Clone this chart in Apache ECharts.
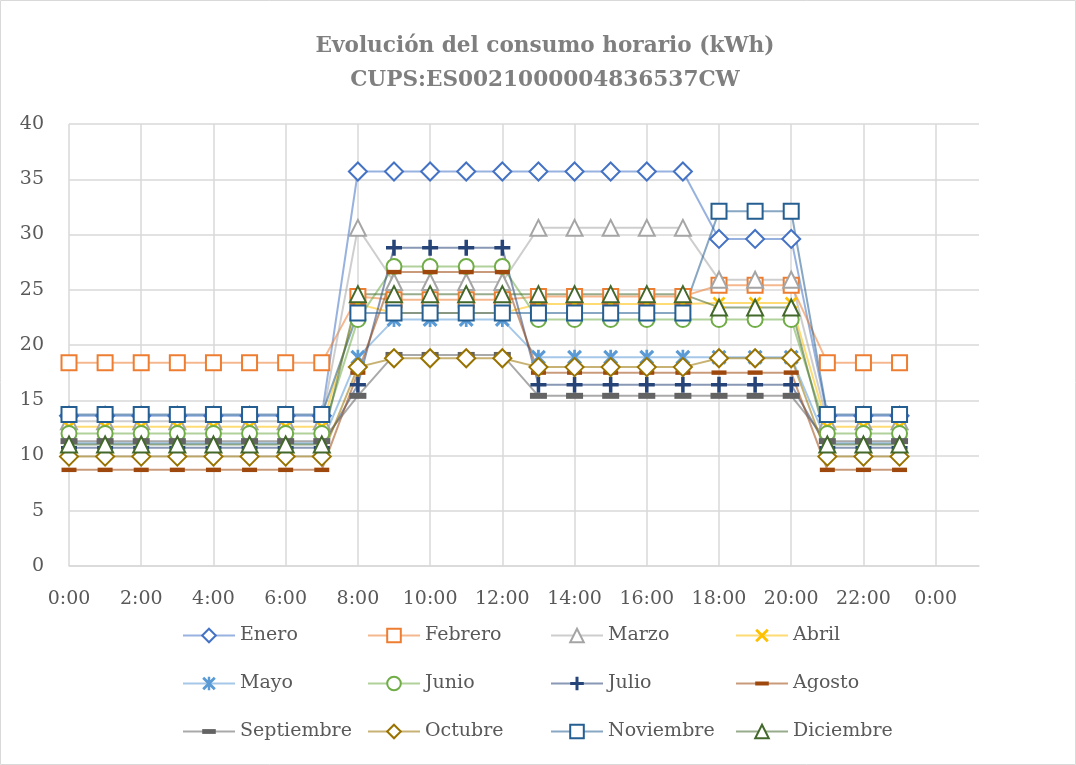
<!DOCTYPE html>
<html>
<head>
<meta charset="utf-8">
<script src="https://cdn.jsdelivr.net/npm/echarts@6/dist/echarts.min.js"></script>
<style>
html,body{margin:0;padding:0;background:#fff;}
#chart{width:1076px;height:765px;}
</style>
</head>
<body>
<div id="chart"></div>
<script>
const titleLines = ['Evolución del consumo horario (kWh)', 'CUPS:ES0021000004836537CW'];
const hours = [0,1,2,3,4,5,6,7,8,9,10,11,12,13,14,15,16,17,18,19,20,21,22,23];
const tickLabels = ['0:00','2:00','4:00','6:00','8:00','10:00','12:00','14:00','16:00','18:00','20:00','22:00','0:00'];
const seriesNames = ['Enero','Febrero','Marzo','Abril','Mayo','Junio','Julio','Agosto','Septiembre','Octubre','Noviembre','Diciembre'];

const enero      = [13.6,13.6,13.6,13.6,13.6,13.6,13.6,13.6,35.7,35.7,35.7,35.7,35.7,35.7,35.7,35.7,35.7,35.7,29.6,29.6,29.6,13.6,13.6,13.6];
const febrero    = [18.4,18.4,18.4,18.4,18.4,18.4,18.4,18.4,24.4,24.1,24.1,24.1,24.1,24.4,24.4,24.4,24.4,24.4,25.4,25.4,25.4,18.4,18.4,18.4];
const marzo      = [13.1,13.1,13.1,13.1,13.1,13.1,13.1,13.1,30.6,25.7,25.7,25.7,25.7,30.6,30.6,30.6,30.6,30.6,25.9,25.9,25.9,13.1,13.1,13.1];
const abril      = [12.6,12.6,12.6,12.6,12.6,12.6,12.6,12.6,23.7,22.9,22.9,22.9,22.9,23.7,23.7,23.7,23.7,23.7,23.8,23.8,23.8,12.6,12.6,12.6];
const mayo       = [11.1,11.1,11.1,11.1,11.1,11.1,11.1,11.1,18.9,22.3,22.3,22.3,22.3,18.9,18.9,18.9,18.9,18.9,18.9,18.9,18.9,11.1,11.1,11.1];
const junio      = [12.0,12.0,12.0,12.0,12.0,12.0,12.0,12.0,22.3,27.1,27.1,27.1,27.1,22.3,22.3,22.3,22.3,22.3,22.3,22.3,22.3,12.0,12.0,12.0];
const julio      = [10.7,10.7,10.7,10.7,10.7,10.7,10.7,10.7,16.4,28.8,28.8,28.8,28.8,16.4,16.4,16.4,16.4,16.4,16.4,16.4,16.4,10.7,10.7,10.7];
const agosto     = [8.7,8.7,8.7,8.7,8.7,8.7,8.7,8.7,17.5,26.6,26.6,26.6,26.6,17.5,17.5,17.5,17.5,17.5,17.5,17.5,17.5,8.7,8.7,8.7];
const septiembre = [11.3,11.3,11.3,11.3,11.3,11.3,11.3,11.3,15.4,19.1,19.1,19.1,19.1,15.4,15.4,15.4,15.4,15.4,15.4,15.4,15.4,11.3,11.3,11.3];
const octubre    = [9.9,9.9,9.9,9.9,9.9,9.9,9.9,9.9,18.0,18.8,18.8,18.8,18.8,18.0,18.0,18.0,18.0,18.0,18.8,18.8,18.8,9.9,9.9,9.9];
const noviembre  = [13.7,13.7,13.7,13.7,13.7,13.7,13.7,13.7,22.9,22.9,22.9,22.9,22.9,22.9,22.9,22.9,22.9,22.9,32.1,32.1,32.1,13.7,13.7,13.7];
const diciembre  = [11.0,11.0,11.0,11.0,11.0,11.0,11.0,11.0,24.6,24.6,24.6,24.6,24.6,24.6,24.6,24.6,24.6,24.6,23.4,23.4,23.4,11.0,11.0,11.0];

const seriesValues = [enero,febrero,marzo,abril,mayo,junio,julio,agosto,septiembre,octubre,noviembre,diciembre];

const colors = ['#4472C4','#ED7D31','#A5A5A5','#FFC000','#5B9BD5','#70AD47','#264478','#9E480E','#636363','#997300','#255E91','#43682B'];

const P_X = 'path://M0,1.5L1.5,0L5,3.5L8.5,0L10,1.5L6.5,5L10,8.5L8.5,10L5,6.5L1.5,10L0,8.5L3.5,5Z';
const P_AST = 'path://M0,1.5L1.5,0L5,3.5L8.5,0L10,1.5L6.5,5L10,8.5L8.5,10L5,6.5L1.5,10L0,8.5L3.5,5Z M4.1,0H5.9V10H4.1Z';
const P_PLUS = 'path://M3.9,0H6.1V3.9H10V6.1H6.1V10H3.9V6.1H0V3.9H3.9Z';
const P_DASH = 'path://M0,0M0,6H16V11H0ZM16,17';
const P_DASH2 = 'path://M0,0M0,5.5H16V11.5H0ZM16,17';

const markers = [
  {symbol:'emptyDiamond', size:18, bw:3},
  {symbol:'emptyRect', size:15, bw:3},
  {symbol:'emptyTriangle', size:16, bw:3},
  {symbol:P_X, size:13, bw:0},
  {symbol:P_AST, size:15, bw:0},
  {symbol:'emptyCircle', size:15, bw:3},
  {symbol:P_PLUS, size:16, bw:0},
  {symbol:P_DASH, size:15, bw:0},
  {symbol:P_DASH2, size:17, bw:0},
  {symbol:'emptyDiamond', size:18, bw:3},
  {symbol:'emptyRect', size:15, bw:3},
  {symbol:'emptyTriangle', size:16, bw:3}
];

const FONT = '"DejaVu Serif", serif';
const legendCols = [182, 367, 550, 735];
const legendRows = [626, 674, 722];

const series = seriesNames.map((name, i) => ({
  name: name,
  type: 'line',
  data: hours.map((h, k) => [h, seriesValues[i][k]]),
  symbol: markers[i].symbol,
  symbolSize: markers[i].size,
  showAllSymbol: true,
  itemStyle: { color: colors[i], borderWidth: markers[i].bw },
  lineStyle: { width: 2, opacity: 0.55 },
  emphasis: { disabled: true },
  animation: false
}));

const legends = seriesNames.map((name, i) => ({
  data: [name],
  left: legendCols[i % 4],
  top: legendRows[Math.floor(i / 4)],
  itemWidth: 52,
  itemHeight: 17,
  itemGap: 0,
  selectedMode: false,
  padding: 0,
  textStyle: { fontFamily: FONT, fontSize: 19, color: '#595959' }
}));

const chart = echarts.init(document.getElementById('chart'), null, { renderer: 'canvas' });
chart.setOption({
  backgroundColor: '#fff',
  animation: false,
  grid: { left: 69, top: 124, right: 97, bottom: 199, containLabel: false },
  xAxis: {
    type: 'value', min: 0, max: 25.2, interval: 2,
    axisLine: { show: true, lineStyle: { color: '#D9D9D9', width: 1.5 } },
    axisTick: { show: false },
    splitLine: { show: true, showMaxLine: false, lineStyle: { color: '#D9D9D9', width: 1.5 } },
    axisLabel: {
      margin: 24, fontFamily: FONT, fontSize: 19, color: '#595959', showMaxLabel: false,
      formatter: v => (Math.abs(v % 2) < 1e-9 && tickLabels[v / 2] !== undefined) ? tickLabels[v / 2] : ''
    }
  },
  yAxis: {
    type: 'value', min: 0, max: 40, interval: 5,
    axisLine: { show: false },
    axisTick: { show: false },
    splitLine: { show: true, lineStyle: { color: '#D9D9D9', width: 1.5 } },
    axisLabel: { margin: 25, fontFamily: FONT, fontSize: 19, color: '#595959' }
  },
  legend: legends,
  graphic: [
    { type: 'rect', shape: { x: 0.5, y: 0.5, width: 1075, height: 764 }, style: { fill: 'none', stroke: '#D9D9D9', lineWidth: 1 }, silent: true },
    { type: 'text', x: 545, y: 46, style: { text: titleLines[0], fontFamily: FONT, fontSize: 21.6, fontWeight: 'bold', fill: '#7F7F7F', align: 'center', verticalAlign: 'middle' } },
    { type: 'text', x: 545, y: 80, style: { text: titleLines[1], fontFamily: FONT, fontSize: 21.6, fontWeight: 'bold', fill: '#7F7F7F', align: 'center', verticalAlign: 'middle' } }
  ],
  series: series
});
</script>
</body>
</html>
